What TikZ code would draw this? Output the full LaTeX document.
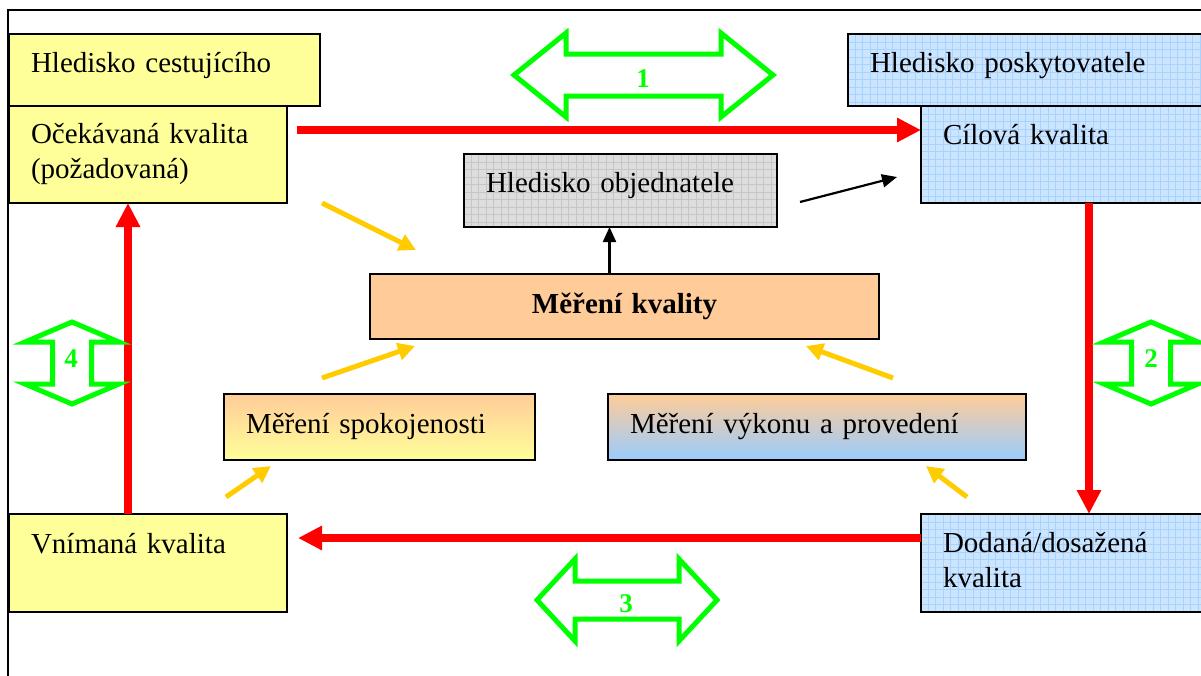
\documentclass[tikz,border=0pt]{standalone}
\usepackage{fontspec}
\setmainfont{Liberation Serif}
\usepackage{tikz}
\usetikzlibrary{arrows.meta, calc}
\definecolor{boxyellow}{HTML}{FFFF99}
\definecolor{boxpeach}{HTML}{FFCC99}
\definecolor{boxblue}{HTML}{CCE5FF}
\definecolor{gridblue}{HTML}{A9D3FF}
\definecolor{boxgray}{HTML}{DDDDDD}
\definecolor{gridgray}{HTML}{C6C6C6}
\definecolor{shadeblue}{HTML}{99CCFF}
\definecolor{arrowyellow}{HTML}{FFCC00}
\definecolor{arrowgreen}{HTML}{00FF00}
% hollow double arrows: centre x, centre y, half length, head length, head half width, shaft half width
\newcommand{\harrow}[6]{\draw[green_arrow] ({#1-#3},#2) -- ({#1-#3+#4},{#2-#5}) -- ({#1-#3+#4},{#2-#6}) -- ({#1+#3-#4},{#2-#6}) -- ({#1+#3-#4},{#2-#5}) -- ({#1+#3},#2) -- ({#1+#3-#4},{#2+#5}) -- ({#1+#3-#4},{#2+#6}) -- ({#1-#3+#4},{#2+#6}) -- ({#1-#3+#4},{#2+#5}) -- cycle;}
\newcommand{\varrow}[6]{\draw[green_arrow] (#1,{#2-#3}) -- ({#1-#5},{#2-#3+#4}) -- ({#1-#6},{#2-#3+#4}) -- ({#1-#6},{#2+#3-#4}) -- ({#1-#5},{#2+#3-#4}) -- (#1,{#2+#3}) -- ({#1+#5},{#2+#3-#4}) -- ({#1+#6},{#2+#3-#4}) -- ({#1+#6},{#2-#3+#4}) -- ({#1+#5},{#2-#3+#4}) -- cycle;}

\begin{document}
\begin{tikzpicture}[
	x=1pt, y=-1pt,
	box_style/.style={
		rectangle,
		draw=black,
		line width=2pt,
		outer sep=0pt,
		anchor=north west,
		inner ysep=0pt,
		inner xsep=22pt,
		align=left,
		text=black,
		font=\fontsize{29}{35}\selectfont
	},
	yellow_box/.style={box_style, fill=boxyellow},
	blue_box/.style={
		box_style,
		fill=boxblue,
		path picture={\draw[line width=0.8pt, gridblue] (path picture bounding box.south west) grid[step=7.5pt] (path picture bounding box.north east);}
	},
	gray_box/.style={
		box_style,
		fill=boxgray,
		path picture={\draw[line width=0.8pt, gridgray] (path picture bounding box.south west) grid[step=7.5pt] (path picture bounding box.north east);}
	},
	red_arrow/.style={draw=red, line width=7.5pt, -{Triangle[length=24pt, width=23pt]}},
	yellow_arrow/.style={draw=arrowyellow, line width=5pt, -{Triangle[length=17pt, width=17pt]}},
	black_arrow/.style={draw=black, line width=2.2pt, -{Triangle[length=15pt, width=13pt]}},
	green_arrow/.style={draw=arrowgreen, line width=5pt, line join=miter},
	num_style/.style={text=arrowgreen, font=\fontsize{27}{30}\selectfont\bfseries}]
	\useasboundingbox (0,0) rectangle (1201,675);
	% Frame
	\draw[line width=2pt] (8,700) -- (8,10) -- (1230,10);
	% Passenger side
	\node[yellow_box, text width=267pt, text height=38pt, text depth=34pt] (cestujici) at (9,34) {Hledisko cestujícího};
	\node[yellow_box, text width=234pt, text height=37pt, text depth=60pt] (ocekavana) at (9,106) {Očekávaná kvalita\\(požadovaná)};
	\node[yellow_box, text width=234pt, text height=39pt, text depth=59pt] (vnimana) at (9,514) {Vnímaná kvalita};
	% Provider side
	\node[blue_box, text width=323pt, text height=38pt, text depth=34pt] (poskytovatel) at (848,34) {Hledisko poskytovatele};
	\node[blue_box, text width=250pt, text height=38pt, text depth=59pt] (cilova) at (921,106) {Cílová kvalita};
	\node[blue_box, text width=250pt, text height=38pt, text depth=60pt] (dodana) at (921,514) {Dodaná/dosažená\\kvalita};
	% Middle
	\node[gray_box, text width=269pt, text height=38pt, text depth=35pt] (objednatel) at (464,154) {Hledisko objednatele};
	\node[box_style, fill=boxpeach, align=center, text width=465pt, text height=39pt, text depth=26pt, font=\fontsize{29}{35}\selectfont\bfseries] (mereni_kvality) at (370,274) {Měření kvality};
	\node[box_style, top color=boxpeach, bottom color=boxyellow, text width=267pt, text height=39pt, text depth=27pt] (spokojenost) at (224,394) {Měření spokojenosti};
	\node[box_style, top color=boxpeach, bottom color=shadeblue, text width=374pt, text height=39pt, text depth=27pt] (vykon) at (608,394) {Měření výkonu a provedení};
	% Quality loop
	\draw[red_arrow] ([shift={(10,-24.5)}]ocekavana.east) -- ([shift={(0,-24.5)}]cilova.west);
	\draw[red_arrow] ([xshift=21pt]cilova.south) -- ([xshift=21pt]dodana.north);
	\draw[red_arrow] ([shift={(0,-25)}]dodana.west) -- ([shift={(11,-25)}]vnimana.east);
	\draw[red_arrow] ([xshift=-20pt]vnimana.north) -- ([xshift=-20pt]ocekavana.south);
	% Measurement
	\draw[black_arrow] ([xshift=-15pt]mereni_kvality.north) -- ([xshift=-15pt]mereni_kvality.north |- objednatel.south);
	\draw[black_arrow] ([shift={(23,11.5)}]objednatel.east) -- ([shift={(-24,22.5)}]cilova.west);
	\draw[yellow_arrow] ([shift={(35,0)}]ocekavana.south east) -- ([shift={(46,-24)}]mereni_kvality.north west);
	\draw[yellow_arrow] ([shift={(98,-16)}]spokojenost.north west) -- ([shift={(45,7)}]mereni_kvality.south west);
	\draw[yellow_arrow] ([shift={(2,37)}]spokojenost.south west) -- ([shift={(47,6)}]spokojenost.south west);
	\draw[yellow_arrow] ([shift={(-133,-16)}]vykon.north east) -- ([shift={(-73,7)}]mereni_kvality.south east);
	\draw[yellow_arrow] ([shift={(-59,37)}]vykon.south east) -- ([shift={(-100,6)}]vykon.south east);
	% Gaps
	\harrow{643.5}{75}{129.5}{52}{42}{21}
	\harrow{627}{600}{90}{38}{41}{19}
	\varrow{1151}{363}{41}{20}{47}{19.5}
	\varrow{72}{363}{41}{20}{47}{19.5}
	\node[num_style] (gap_one) at (643,79) {1};
	\node[num_style] (gap_two) at (1151,359) {2};
	\node[num_style] (gap_three) at (626,604) {3};
	\node[num_style] (gap_four) at (71,359) {4};
\end{tikzpicture}
\end{document}
